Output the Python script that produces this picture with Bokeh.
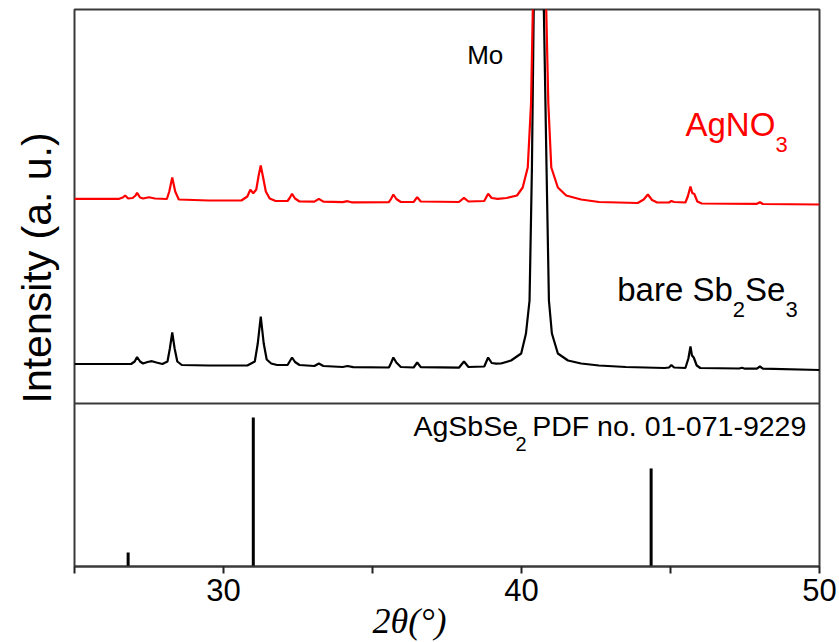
from bokeh.plotting import figure
from bokeh.models import Range1d, ColumnDataSource, Label, Span, FixedTicker, Title
from bokeh.embed import file_html
from bokeh.resources import INLINE

# ---- data ----
# bare Sb2Se3 pattern (2theta in degrees, intensity in a.u., stacked)
black_x = [25.0, 26.0, 26.9, 27.02, 27.1, 27.2, 27.3, 27.45, 27.6, 27.75, 27.95,
           28.12, 28.2, 28.28, 28.36, 28.45, 28.6, 29.5, 30.8, 31.05, 31.15, 31.25,
           31.35, 31.45, 31.6, 31.8, 32.15, 32.22, 32.3, 32.4, 32.55, 33.05, 33.2,
           33.35, 34.0, 34.16, 34.35, 35.55, 35.63, 35.7, 35.8, 35.95, 36.38, 36.5,
           36.62, 37.9, 38.07, 38.22, 38.75, 38.88, 39.0, 39.15, 39.31, 39.65, 39.99,
           40.15, 40.27, 40.35, 40.41, 40.58, 40.75, 40.84, 40.92, 41.02, 41.22,
           41.56, 42.0, 42.6, 43.5, 44.8, 44.95, 45.03, 45.12, 45.5, 45.6, 45.67,
           45.72, 45.78, 45.88, 46.0, 47.3, 47.4, 47.5, 47.9, 48.0, 48.1, 50.0]
black_y = [39.5, 39.5, 39.5, 42, 46.5, 42, 40, 41.5, 42.3, 41, 39.5,
           42, 55, 71, 55, 42, 38.5, 38, 38, 42, 60, 87,
           60, 44, 40, 38.5, 38.5, 42, 46, 41.5, 38.5, 37.5, 40,
           37.5, 36.5, 37.5, 36.3, 36, 41, 46, 41, 36.5, 36, 41,
           36.3, 35.8, 42, 36.5, 37, 46, 40.5, 39.8, 40, 43, 50,
           70, 103, 236, 394, 900, 394, 236, 103, 70, 50,
           43, 40, 38, 36.5, 35.5, 36, 38.5, 36, 35.5, 45, 57,
           48, 46, 38, 35.5, 35, 35.7, 34.8, 34.8, 37, 34.8, 33.5]

# AgNO3-treated pattern
red_x = [25.0, 26.5, 26.62, 26.7, 26.8, 26.95, 27.05, 27.1, 27.2, 27.3, 27.5, 27.7,
         28.1, 28.18, 28.28, 28.38, 28.5, 29.5, 30.6, 30.8, 30.9, 31.0, 31.1, 31.18,
         31.25, 31.33, 31.42, 31.55, 31.75, 32.15, 32.22, 32.3, 32.4, 32.55, 33.05,
         33.2, 33.35, 34.0, 34.16, 34.3, 35.55, 35.62, 35.7, 35.8, 35.95, 36.38, 36.5,
         36.62, 37.9, 38.07, 38.22, 38.75, 38.88, 39.0, 39.2, 39.5, 39.85, 40.04,
         40.21, 40.32, 40.38, 40.58, 40.83, 40.9, 41.0, 41.22, 41.5, 42.0, 42.6,
         43.9, 44.1, 44.24, 44.38, 44.55, 44.95, 45.03, 45.12, 45.5, 45.58, 45.67,
         45.73, 45.8, 45.9, 46.05, 47.9, 48.0, 48.1, 50.0]
red_y = [204.7, 204.7, 206, 208, 205, 205.5, 208, 210.7, 206, 205, 206.3, 205,
         204.5, 212, 226, 212, 204, 203, 203, 207, 213.7, 210.3, 214, 228,
         238, 226, 212, 205, 202.5, 202.5, 205.5, 209.7, 205, 202, 201.8,
         204.7, 201.8, 201.3, 202.3, 201.2, 201.3, 204.5, 209, 204.5, 201.5, 201.5, 206.3,
         202, 201.5, 205.7, 202, 202.5, 209.7, 205.5, 204.7, 205.5, 208, 216,
         236, 300, 394, 700, 394, 300, 236, 216, 208, 204, 201.5,
         200.5, 204, 209, 203.5, 201, 201, 202.5, 201.5, 201, 207, 217,
         210.5, 209.5, 202, 200, 199.7, 201.3, 199.5, 199]

# AgSbSe2 reference lines (PDF no. 01-071-9229)
ref_x = [26.8, 31.0, 44.35]
ref_i = [9.4, 100.0, 65.8]

x_ticks = [30, 40, 50]
x_minor = [25, 35, 45]

FRAME = "#3a3a3a"
SANS = "Liberation Sans"
SERIF = "Liberation Serif"

p = figure(width=839, height=642, output_backend="svg", toolbar_location=None,
           x_range=Range1d(25, 50), y_range=Range1d(-163, 394),
           min_border_left=74, min_border_right=20, min_border_top=9,
           min_border_bottom=76)
p.extra_y_ranges = {"ref": Range1d(0, 373.8)}
p.background_fill_color = "white"
p.border_fill_color = "white"
p.xgrid.visible = False
p.ygrid.visible = False
p.yaxis.visible = False
p.outline_line_color = FRAME
p.outline_line_width = 2

ax = p.xaxis[0]
ax.ticker = FixedTicker(ticks=x_ticks, minor_ticks=x_minor)
ax.axis_line_color = FRAME
ax.axis_line_width = 2
ax.major_tick_line_color = "#222222"
ax.major_tick_line_width = 2
ax.major_tick_in = 0
ax.major_tick_out = 7
ax.minor_tick_line_color = "#222222"
ax.minor_tick_line_width = 2
ax.minor_tick_in = 0
ax.minor_tick_out = 7
ax.major_label_text_font = SANS
ax.major_label_text_font_size = "31px"
ax.major_label_text_color = "black"
ax.major_label_standoff = 5

# axis titles as plot titles (they sit off-centre, as in the original)
p.add_layout(Title(text="Intensity (a. u.)", align="left", offset=163, standoff=26,
                   vertical_align="top",
                   text_font=SANS, text_font_size="41px", text_font_style="normal",
                   text_color="black"), "left")
p.add_layout(Title(text="2\u03b8(\u00b0)", align="left", offset=298, standoff=-5,
                   vertical_align="top",
                   text_font=SERIF, text_font_size="36px", text_font_style="italic",
                   text_color="black"), "below")

# panel divider
p.add_layout(Span(location=0, dimension="width", line_color=FRAME, line_width=2))

src_b = ColumnDataSource(dict(x=black_x, y=black_y))
src_r = ColumnDataSource(dict(x=red_x, y=red_y))
p.line("x", "y", source=src_b, line_color="black", line_width=2.2)
p.line("x", "y", source=src_r, line_color="#ff0000", line_width=2.2)

src_ref = ColumnDataSource(dict(x=ref_x, i=ref_i))
p.segment(x0="x", y0=0, x1="x", y1="i", source=src_ref, y_range_name="ref",
          line_color="black", line_width=3)


def lab(text, x, y, size, color="black"):
    p.add_layout(Label(x=x, y=y, x_units="screen", y_units="screen", text=text,
                       text_font=SANS, text_font_size=size, text_color=color,
                       text_baseline="alphabetic", text_align="left"))


# texts (screen positions relative to the frame's lower-left corner)
lab("Mo", 392.7, 512, "26px")
lab("AgNO", 611, 442.5, "33px", color="#ff0000")
lab("3", 700.9, 422.3, "22px", color="#ff0000")
lab("bare Sb", 542.7, 277.5, "33px")
lab("2", 658.3, 257.3, "22px")
lab("Se", 670.5, 277.5, "33px")
lab("3", 710.9, 257.3, "22px")
lab("AgSbSe", 339, 140.1, "28.5px")
lab("2", 441, 122.4, "20px")
lab("PDF no. 01-071-9229", 457.7, 140.1, "28.5px")

open("out.html", "w").write(file_html(p, INLINE))
